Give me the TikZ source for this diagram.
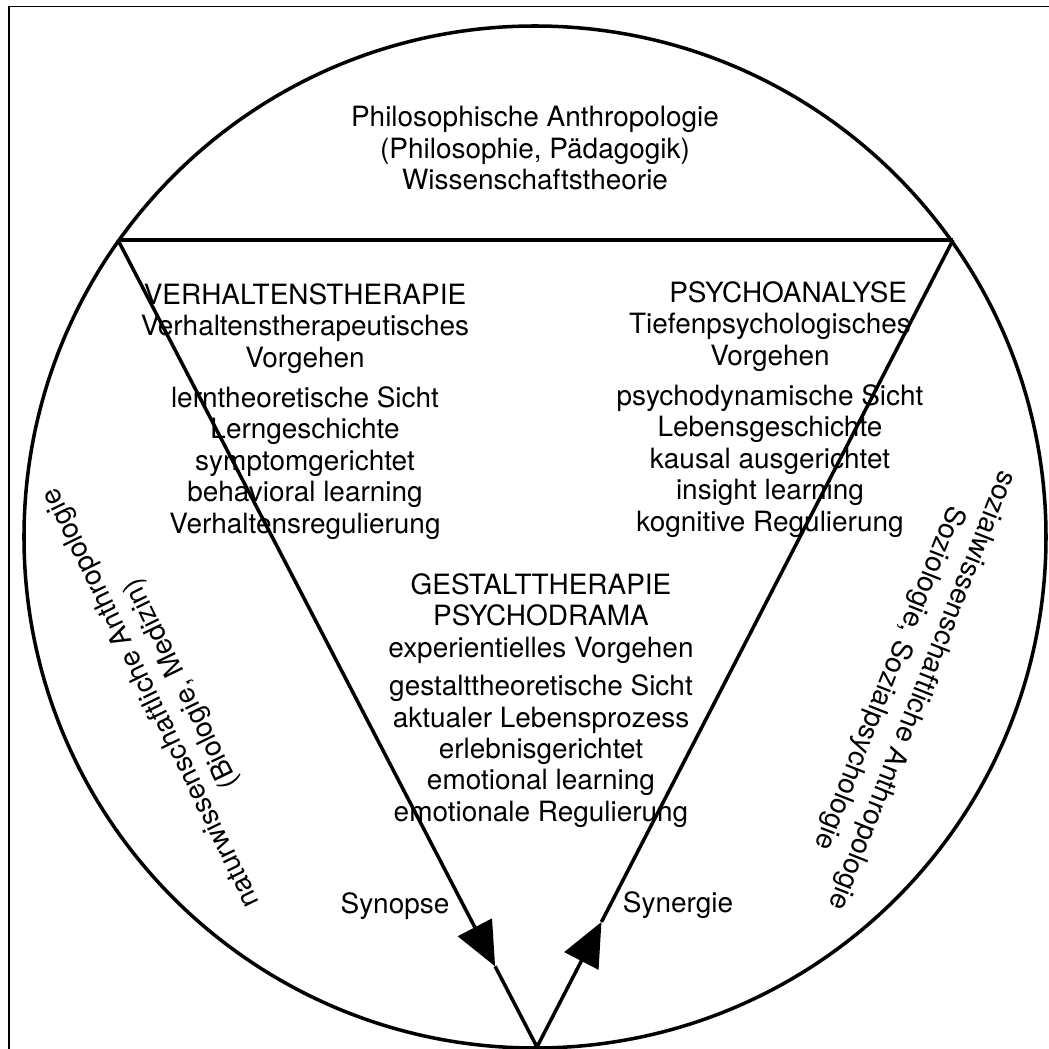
\documentclass[tikz,border=0pt]{standalone}
\usepackage{fontspec}
\setmainfont{TeX Gyre Heros}
\usepackage{tikz}
\usetikzlibrary{arrows.meta, calc}

\begin{document}
\begin{tikzpicture}[
  font=\fontsize{15.9}{17.9}\selectfont,
  block/.style={align=center, anchor=north, inner sep=0pt},
  bogen/.style={align=center, inner sep=0pt},
  lbl/.style={anchor=base, inner sep=0pt},
  linie/.style={line width=2pt},
  arr/.style={-{Triangle[length=25pt, width=21.5pt]}, line width=2pt}
]
\useasboundingbox (-10.70,-10.24) rectangle (10.28,10.74);
\draw[line width=1.1pt] (-10.52,-10.24) -- (-10.52,10.61) -- (10.28,10.61);
\coordinate (mitte) at (0,0);
\coordinate (links) at (-8.34,5.94);
\coordinate (rechts) at (8.36,5.94);
\coordinate (spitze) at (0.04,-10.20);
\coordinate (pfeillinks) at ($(links)!0.9!(spitze)$);
\coordinate (pfeilrechts) at ($(spitze)!0.155!(rechts)$);
\draw[linie] (mitte) circle (10.22);
\draw[linie] (links) -- (rechts);
\draw[arr] (links) -- (pfeillinks);
\draw[linie] (pfeillinks) -- (spitze);
\draw[arr] (spitze) -- (pfeilrechts);
\draw[linie] (pfeilrechts) -- (rechts);
\node[block] (philo) at (0,8.62)
  {Philosophische Anthropologie\\(Philosophie, Pädagogik)\\Wissenschaftstheorie};
\node[block] (verhalten) at (-4.60,5.08)
  {VERHALTENSTHERAPIE\\Verhaltenstherapeutisches\\Vorgehen\\[5pt]
   lerntheoretische Sicht\\Lerngeschichte\\symptomgerichtet\\
   behavioral learning\\Verhaltensregulierung};
\node[block] (psycho) at (4.70,5.12)
  {\hspace*{1.3em}PSYCHOANALYSE\\Tiefenpsychologisches\\Vorgehen\\[5pt]
   psychodynamische Sicht\\Lebensgeschichte\\kausal ausgerichtet\\
   insight learning\\kognitive Regulierung};
\node[block] (gestalt) at (0.12,-0.72)
  {GESTALTTHERAPIE\\PSYCHODRAMA\\experientielles Vorgehen\\[4pt]
   gestalttheoretische Sicht\\aktualer Lebensprozess\\erlebnisgerichtet\\
   emotional learning\\emotionale Regulierung};
\node[bogen, rotate=116] (natur) at (-7.36,-3.07)
  {naturwissenschaftliche Anthropologie\\[1pt](Biologie, Medizin)};
\node[bogen, rotate=-111.5] (sozial) at (7.40,-2.94)
  {sozialwissenschaftliche Anthropologie\\[2pt]Soziologie, Sozialpsychologie};
\node[lbl] (synopse) at (-2.80,-7.52) {Synopse};
\node[lbl] (synergie) at (2.86,-7.50) {Synergie};
\end{tikzpicture}
\end{document}
